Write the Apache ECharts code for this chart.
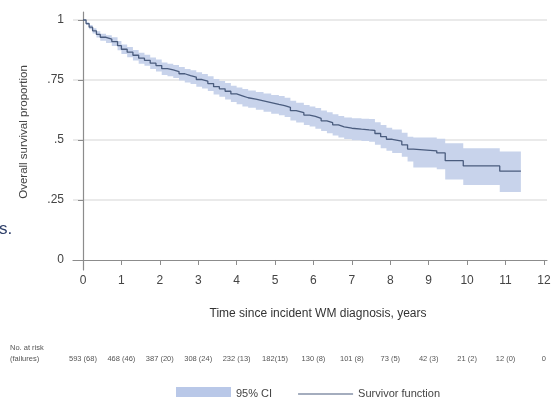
<!DOCTYPE html>
<html>
<head>
<meta charset="utf-8">
<script src="https://cdn.jsdelivr.net/npm/echarts@6/dist/echarts.min.js"></script>
<style>
html, body { margin: 0; padding: 0; background: #fff; }
#chart { width: 560px; height: 397px; }
</style>
</head>
<body>
<div id="chart"></div>
<script>
// Kaplan-Meier estimate
var years = [0, 0.08, 0.16, 0.25, 0.35, 0.45, 0.6, 0.75, 0.9, 1.0,
    1.15, 1.3, 1.45, 1.6, 1.75, 1.9, 2.05, 2.2, 2.35, 2.5,
    2.65, 2.8, 2.95, 3.1, 3.25, 3.4, 3.55, 3.7, 3.85, 4.0,
    4.15, 4.3, 4.5, 4.7, 4.9, 5.1, 5.25, 5.4, 5.55, 5.75,
    5.9, 6.05, 6.2, 6.35, 6.5, 6.65, 6.8, 7.0, 7.25, 7.45,
    7.6, 7.75, 7.9, 8.05, 8.3, 8.45, 8.6, 9.21, 9.43, 9.9,
    10.85, 11.4];
var survival = [1, 0.985, 0.97, 0.955, 0.94, 0.928, 0.92, 0.91, 0.893, 0.878,
    0.866, 0.853, 0.841, 0.832, 0.82, 0.81, 0.797, 0.792, 0.785, 0.776,
    0.768, 0.762, 0.752, 0.745, 0.735, 0.722, 0.713, 0.703, 0.692, 0.684,
    0.676, 0.67, 0.663, 0.656, 0.648, 0.643, 0.636, 0.622, 0.614, 0.604,
    0.598, 0.59, 0.58, 0.572, 0.563, 0.555, 0.549, 0.545, 0.542, 0.54,
    0.527, 0.514, 0.503, 0.495, 0.48, 0.462, 0.455, 0.446, 0.414, 0.392,
    0.37, 0.37];
var ciLower = [1, 0.979, 0.961, 0.944, 0.927, 0.913, 0.904, 0.892, 0.874, 0.858,
    0.845, 0.831, 0.818, 0.809, 0.796, 0.785, 0.771, 0.766, 0.758, 0.748,
    0.74, 0.733, 0.722, 0.715, 0.704, 0.69, 0.68, 0.669, 0.658, 0.649,
    0.64, 0.634, 0.626, 0.618, 0.609, 0.603, 0.596, 0.581, 0.573, 0.562,
    0.556, 0.547, 0.537, 0.528, 0.519, 0.51, 0.504, 0.499, 0.496, 0.493,
    0.48, 0.466, 0.455, 0.446, 0.43, 0.41, 0.385, 0.378, 0.335, 0.312,
    0.283, 0.283];
var ciUpper = [1, 0.991, 0.979, 0.966, 0.953, 0.943, 0.936, 0.928, 0.912, 0.898,
    0.887, 0.875, 0.864, 0.855, 0.844, 0.835, 0.823, 0.818, 0.812, 0.804,
    0.796, 0.791, 0.782, 0.775, 0.766, 0.754, 0.746, 0.737, 0.726, 0.719,
    0.712, 0.706, 0.7, 0.694, 0.687, 0.683, 0.676, 0.663, 0.655, 0.646,
    0.64, 0.633, 0.623, 0.616, 0.607, 0.6, 0.594, 0.591, 0.588, 0.587,
    0.574, 0.562, 0.551, 0.544, 0.53, 0.514, 0.51, 0.505, 0.486, 0.466,
    0.452, 0.452];

var xTicks = [0, 1, 2, 3, 4, 5, 6, 7, 8, 9, 10, 11, 12];
var yTicks = [0, 0.25, 0.5, 0.75, 1];
var gridValues = [0.25, 0.5, 0.75, 1];
var atRisk = ['593 (68)', '468 (46)', '387 (20)', '308 (24)', '232 (13)', '182(15)',
    '130 (8)', '101 (8)', '73 (5)', '42 (3)', '21 (2)', '12 (0)', '0'];

var bandColor = '#c8d3eb';
var lineColor = '#4a5c7e';
var axisColor = '#8c8c8c';
var font = 'Liberation Sans, Arial, sans-serif';

var survData = years.map(function (t, i) { return [t, survival[i]]; });

// step-shaped confidence band, one polygon through the axis scales
function renderBand(params, api) {
    var top = [], bottom = [];
    for (var i = 0; i < years.length; i++) {
        var x0 = years[i];
        var x1 = i < years.length - 1 ? years[i + 1] : years[i];
        top.push(api.coord([x0, ciUpper[i]]), api.coord([x1, ciUpper[i]]));
        bottom.push(api.coord([x0, ciLower[i]]), api.coord([x1, ciLower[i]]));
    }
    return {
        type: 'polygon',
        shape: { points: top.concat(bottom.reverse()) },
        style: { fill: bandColor }
    };
}

var chart = echarts.init(document.getElementById('chart'));
chart.setOption({
    animation: false,
    textStyle: { fontFamily: font },
    grid: { left: 73, right: 13, top: 12, bottom: 127 },
    legend: {
        data: [
            { name: '95% CI', icon: 'rect', itemStyle: { color: '#b9c8e8' } },
            { name: 'Survivor function', icon: 'path://M0,0H50V1H0Z', itemStyle: { color: lineColor } }
        ],
        left: 171, top: 382,
        itemWidth: 55, itemHeight: 14, itemGap: 26,
        textStyle: { fontSize: 11, color: '#444', fontFamily: font },
        selectedMode: false
    },
    xAxis: [{
        type: 'value', min: -0.26, max: 12.08,
        axisLine: { show: true, lineStyle: { color: axisColor, width: 1.2 } },
        axisTick: { show: true, customValues: xTicks, length: 5, lineStyle: { color: axisColor } },
        axisLabel: { customValues: xTicks, fontSize: 12, color: '#444', margin: 5 },
        splitLine: { show: false }
    }, {
        type: 'value', min: -0.26, max: 12.08, position: 'bottom', offset: 85,
        axisLine: { show: false },
        axisTick: { show: false },
        axisLabel: {
            customValues: xTicks, fontSize: 7.5, color: '#555', margin: 0,
            formatter: function (v) { return atRisk[Math.round(v)]; }
        },
        splitLine: { show: false }
    }],
    yAxis: {
        type: 'value', min: -0.0417, max: 1.0333,
        axisLine: { show: true, lineStyle: { color: axisColor, width: 1.2 } },
        axisTick: { show: true, customValues: yTicks, length: 5, lineStyle: { color: axisColor } },
        axisLabel: {
            customValues: yTicks, fontSize: 12, color: '#444', margin: 9,
            formatter: function (v) {
                if (v === 0 || v === 1) return String(v);
                return String(v).replace('0.', '.');
            }
        },
        splitLine: { show: false }
    },
    graphic: [
        { type: 'text', x: 24, y: 132, rotation: Math.PI / 2,
          style: { text: 'Overall survival proportion', font: '11.5px ' + font, fill: '#444',
                   textAlign: 'center', textVerticalAlign: 'middle' } },
        { type: 'text', x: 318, y: 314,
          style: { text: 'Time since incident WM diagnosis, years', font: '12px ' + font, fill: '#333',
                   textAlign: 'center', textVerticalAlign: 'middle' } },
        { type: 'text', x: 10, y: 348,
          style: { text: 'No. at risk', font: '7.5px ' + font, fill: '#555', textVerticalAlign: 'middle' } },
        { type: 'text', x: 10, y: 359,
          style: { text: '(failures)', font: '7.5px ' + font, fill: '#555', textVerticalAlign: 'middle' } },
        { type: 'text', x: -1, y: 229,
          style: { text: 's.', font: '17px ' + font, fill: '#2e3f6a', textVerticalAlign: 'middle' } }
    ],
    series: [{
        name: '95% CI', type: 'custom', renderItem: renderBand,
        data: [[0, 0]], silent: true, z: 2,
        itemStyle: { color: bandColor }
    }, {
        name: 'Survivor function', type: 'line', step: 'end',
        data: survData, symbol: 'none', silent: true, z: 3,
        itemStyle: { color: lineColor },
        lineStyle: { color: lineColor, width: 1.3 },
        markLine: {
            silent: true, symbol: 'none', label: { show: false }, z: 0,
            lineStyle: { color: '#e3e3e3', width: 1.5, type: 'solid' },
            data: gridValues.map(function (v) { return { yAxis: v }; })
        }
    }]
});
</script>
</body>
</html>
